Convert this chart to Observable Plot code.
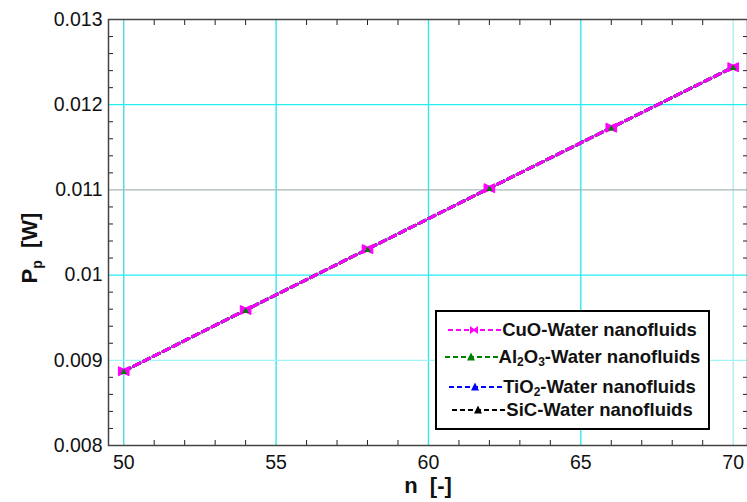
<!DOCTYPE html>
<html>
<head>
<meta charset="utf-8">
<script src="https://cdn.jsdelivr.net/npm/d3@7"></script>
<script src="https://cdn.jsdelivr.net/npm/@observablehq/plot@0.6"></script>
<style>
  html, body { margin: 0; padding: 0; background: #fff; }
  #wrap { position: relative; width: 747px; height: 502px; overflow: hidden; font-family: "Liberation Sans", Arial, sans-serif; }
  #legend { position: absolute; left: 435px; top: 310px; width: 271px; height: 116px; border: 2.5px solid #000; background: #fff; box-sizing: content-box; }
  .row { position: absolute; left: 0; width: 100%; display: flex; justify-content: center; align-items: center; font-weight: bold; font-size: 18.5px; color: #111; }
  .row svg { margin-right: 1px; }
  sub { font-size: 12px; vertical-align: -3px; }
</style>
</head>
<body>
<div id="wrap"></div>
<script>
// ---- data ----
const nValues = [50, 54, 58, 62, 66, 70];
const cuoWater   = [0.008872, 0.009590, 0.010305, 0.011020, 0.011730, 0.012440];
const al2o3Water = [0.008872, 0.009590, 0.010305, 0.011020, 0.011730, 0.012440];
const tio2Water  = [0.008872, 0.009590, 0.010305, 0.011020, 0.011730, 0.012440];
const sicWater   = [0.008872, 0.009590, 0.010305, 0.011020, 0.011730, 0.012440];
const xTicks = [50, 55, 60, 65, 70];
const yTicks = [0.008, 0.009, 0.01, 0.011, 0.012, 0.013];
const yTickLabels = ["0.008", "0.009", "0.01", "0.011", "0.012", "0.013"];
const seriesNames = ["SiC-Water nanofluids", "TiO2-Water nanofluids", "Al2O3-Water nanofluids", "CuO-Water nanofluids"];
const seriesColors = ["#000000", "#0000ff", "#008000", "#ff00ff"];

const seriesValues = [sicWater, tio2Water, al2o3Water, cuoWater];
const rows = [];
seriesNames.forEach((s, i) => nValues.forEach((n, j) => rows.push({series: s, n, p: seriesValues[i][j]})));

const minorX = d3.range(50, 71, 1).filter(v => v % 5 !== 0);
const minorY = d3.range(0, 26).map(i => +(0.008 + i * 0.0002).toFixed(4)).filter((v, i) => i % 5 !== 0);

const xGrid = [
  {v: 50, c: "#44d8e0"}, {v: 55, c: "#22e8f0"}, {v: 60, c: "#22e8f0"}, {v: 65, c: "#22e8f0"}, {v: 70, c: "#a8ecef"}
];
const yGrid = [
  {v: 0.009, c: "#a0f4f8"}, {v: 0.01, c: "#22eef4"}, {v: 0.011, c: "#a8b8b8"}, {v: 0.012, c: "#22eef4"}
];

// bow-tie marker
const bowtie = {
  draw(context, size) {
    const s = Math.sqrt(size) / 2;
    context.moveTo(-s, -s * 0.85);
    context.lineTo(0, -s * 0.4);
    context.lineTo(s, -s * 0.85);
    context.lineTo(s, s * 0.85);
    context.lineTo(0, s * 0.4);
    context.lineTo(-s, s * 0.85);
    context.closePath();
  }
};

const chart = Plot.plot({
  width: 747,
  height: 502,
  marginLeft: 108,
  marginTop: 19,
  marginBottom: 57,
  marginRight: 0,
  style: {fontFamily: "Liberation Sans, Arial, sans-serif", background: "#fff"},
  x: {domain: [49.5, 70.47], label: null},
  y: {domain: [0.008, 0.013], label: null},
  marks: [
    Plot.ruleX(xGrid, {x: "v", stroke: "c", strokeWidth: 1.3}),
    Plot.ruleY(yGrid, {y: "v", stroke: "c", strokeWidth: 1.3}),
    Plot.axisX({ticks: minorX, tickSize: -5, text: null, anchor: "bottom", stroke: "#222"}),
    Plot.axisX({ticks: minorX, tickSize: -5, text: null, anchor: "top", stroke: "#222"}),
    Plot.axisY({ticks: minorY, tickSize: -5, text: null, anchor: "left", stroke: "#222"}),
    Plot.axisY({ticks: minorY, tickSize: -5, text: null, anchor: "right", stroke: "#222"}),
    Plot.axisX({ticks: xTicks, tickSize: 0, tickPadding: 10, fontSize: 19.5, fill: "#111", anchor: "bottom"}),
    Plot.axisY({ticks: yTicks, tickSize: 0, tickPadding: 6, fontSize: 19.5, fill: "#111", anchor: "left",
      tickFormat: d => yTickLabels[yTicks.indexOf(d)]}),
    Plot.frame({stroke: "#444", strokeWidth: 1.5}),
    Plot.line(rows, {x: "n", y: "p", z: "series", stroke: d => seriesColors[seriesNames.indexOf(d.series)],
      strokeWidth: 3, strokeDasharray: "7,4"}),
    Plot.dot(rows.filter(d => d.series === seriesNames[3]), {x: "n", y: "p", symbol: bowtie, r: 6, fill: "#ff00ff", stroke: "#ff00ff", strokeWidth: 1}),
    Plot.dot(rows.filter(d => d.series === seriesNames[2]), {x: "n", y: "p", symbol: "triangle", r: 2.4, fill: "#008000", stroke: "none", dy: 1}),
    Plot.text(["n  [-]"], {frameAnchor: "bottom", dy: 47, text: d => d, fontSize: 22, fontWeight: "bold", fill: "#111"})
  ]
});

const wrap = document.getElementById("wrap");
wrap.appendChild(chart);

// y axis title with subscript
const svg = d3.select(chart);
const yt = svg.append("text")
  .attr("transform", "translate(37,248) rotate(-90)")
  .attr("text-anchor", "middle")
  .attr("font-size", 22).attr("font-weight", "bold").attr("fill", "#111")
  .attr("font-family", "Liberation Sans, Arial, sans-serif");
yt.append("tspan").text("P");
yt.append("tspan").attr("font-size", 14).attr("dy", 5).text("p");
yt.append("tspan").attr("dy", -5).text("\u00a0\u00a0[W]");

// legend
const legend = document.createElement("div");
legend.id = "legend";
const legendItems = [
  {html: "CuO-Water nanofluids", color: seriesColors[3], marker: "times", top: 18},
  {html: "Al<sub>2</sub>O<sub>3</sub>-Water nanofluids", color: seriesColors[2], marker: "tri", top: 45},
  {html: "TiO<sub>2</sub>-Water nanofluids", color: seriesColors[1], marker: "tri", top: 75},
  {html: "SiC-Water nanofluids", color: seriesColors[0], marker: "tri", top: 98}
];
legendItems.forEach(it => {
  const r = document.createElement("div");
  r.className = "row";
  r.style.top = (it.top - 12) + "px";
  r.style.height = "24px";
  const m = it.marker === "times"
    ? `<path d="M22,3 L26,6 L30,3 L30,11 L26,8 L22,11 Z" fill="${it.color}"/>`
    : `<path d="M26,2.5 L30,10.5 L22,10.5 Z" fill="${it.color}"/>`;
  r.innerHTML = `<svg width="53" height="14"><line x1="0" y1="7" x2="53" y2="7" stroke="${it.color}" stroke-width="2" stroke-dasharray="5,3"/>${m}</svg><span>${it.html}</span>`;
  legend.appendChild(r);
});
wrap.appendChild(legend);
</script>
</body>
</html>
